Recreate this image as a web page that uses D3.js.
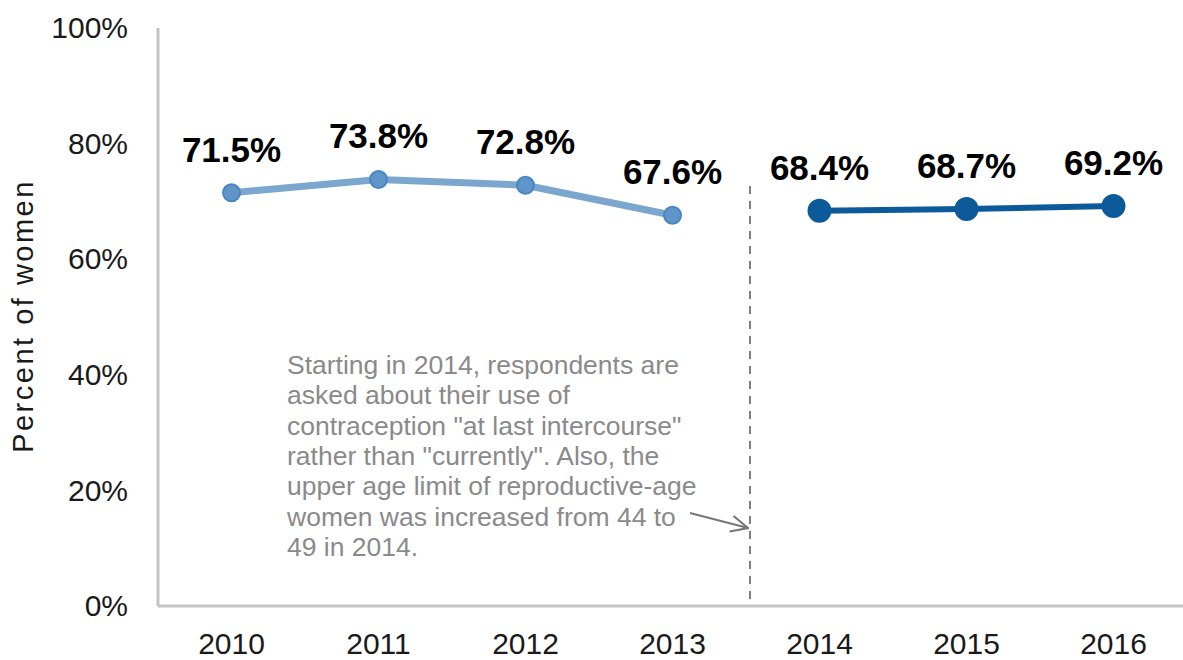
<!DOCTYPE html>
<html>
<head>
<meta charset="utf-8">
<script src="https://cdn.jsdelivr.net/npm/d3@7"></script>
<style>
  body { margin: 0; background: #fff; }
  text { font-family: "Liberation Sans", Arial, sans-serif; }
</style>
</head>
<body>
<div id="chart"></div>
<script>
// Data
const years = ["2010", "2011", "2012", "2013", "2014", "2015", "2016"];
const oldYears = ["2010", "2011", "2012", "2013"];
const oldValues = [71.5, 73.8, 72.8, 67.6];
const newYears = ["2014", "2015", "2016"];
const newValues = [68.4, 68.7, 69.2];
const yTicks = [0, 20, 40, 60, 80, 100];
const noteLines = [
  "Starting in 2014, respondents are",
  "asked about their use of",
  "contraception \"at last intercourse\"",
  "rather than \"currently\". Also, the",
  "upper age limit of reproductive-age",
  "women was increased from 44 to",
  "49 in 2014.",
];

const width = 1183;
const height = 660;
const margin = { left: 158, right: 0, top: 28, bottom: 54 };

const svg = d3
  .select("#chart")
  .append("svg")
  .attr("width", width)
  .attr("height", height);

const xScale = d3
  .scaleBand()
  .domain(years)
  .range([margin.left, margin.left + 7 * 147]);
const xc = (d) => xScale(d) + xScale.bandwidth() / 2;

const yScale = d3
  .scaleLinear()
  .domain([0, 100])
  .range([height - margin.bottom, margin.top]);

// axes
const yAxis = svg
  .append("g")
  .attr("transform", `translate(${margin.left}, 0)`)
  .call(d3.axisLeft(yScale).tickValues(yTicks).tickSize(0).tickPadding(30).tickFormat((d) => d + "%"));
yAxis.select(".domain").remove();
yAxis.selectAll("text").attr("font-size", 30).attr("fill", "#1a1a1a");

const xAxis = svg
  .append("g")
  .attr("transform", `translate(0, ${height - margin.bottom})`)
  .call(d3.axisBottom(xScale).tickSize(0).tickPadding(27));
xAxis.select(".domain").remove();
xAxis.selectAll("text").attr("font-size", 30).attr("fill", "#1a1a1a");

svg
  .append("line")
  .attr("x1", margin.left)
  .attr("x2", margin.left)
  .attr("y1", yScale(100))
  .attr("y2", yScale(0))
  .attr("stroke", "#c4c4c4")
  .attr("stroke-width", 3);
svg
  .append("line")
  .attr("x1", margin.left)
  .attr("x2", width)
  .attr("y1", yScale(0))
  .attr("y2", yScale(0))
  .attr("stroke", "#c4c4c4")
  .attr("stroke-width", 3);

svg
  .append("text")
  .attr("transform", `translate(33, 316) rotate(-90)`)
  .attr("text-anchor", "middle")
  .attr("font-size", 29)
  .attr("letter-spacing", 2.5)
  .attr("fill", "#1a1a1a")
  .text("Percent of women");

// divider
const divX = xScale("2014") + 4;
svg
  .append("line")
  .attr("x1", divX)
  .attr("x2", divX)
  .attr("y1", 186)
  .attr("y2", yScale(0) - 4)
  .attr("stroke", "#555")
  .attr("stroke-width", 1.5)
  .attr("stroke-dasharray", "8,7");

// note
const note = svg
  .append("text")
  .attr("x", 287)
  .attr("y", 374)
  .attr("font-size", 26.5)
  .attr("fill", "#8a8a8a");
noteLines.forEach((l, i) => {
  note.append("tspan").attr("x", 287).attr("dy", i === 0 ? 0 : 30.3).text(l);
});

svg
  .append("defs")
  .append("marker")
  .attr("id", "arrow")
  .attr("viewBox", "0 0 10 10")
  .attr("refX", 9.5)
  .attr("refY", 5)
  .attr("markerWidth", 20)
  .attr("markerHeight", 20)
  .attr("markerUnits", "userSpaceOnUse")
  .attr("orient", "auto")
  .append("path")
  .attr("d", "M1,1 L9.5,5 L1,9")
  .attr("fill", "none")
  .attr("stroke", "#777")
  .attr("stroke-width", 1.1);
svg
  .append("line")
  .attr("x1", 690)
  .attr("y1", 513)
  .attr("x2", divX - 2)
  .attr("y2", 528)
  .attr("stroke", "#777")
  .attr("stroke-width", 2.2)
  .attr("marker-end", "url(#arrow)");

// lines
const line = d3
  .line()
  .x((d) => xc(d.x))
  .y((d) => yScale(d.y));

const drawSeries = (xs, vs, opts) => {
  const pts = xs.map((x, i) => ({ x, y: vs[i] }));
  svg
    .append("path")
    .datum(pts)
    .attr("fill", "none")
    .attr("stroke", opts.color)
    .attr("stroke-width", opts.width)
    .attr("stroke-linejoin", "round")
    .attr("d", line);
  svg
    .append("g")
    .selectAll("circle")
    .data(pts)
    .join("circle")
    .attr("cx", (d) => xc(d.x))
    .attr("cy", (d) => yScale(d.y))
    .attr("r", opts.r)
    .attr("fill", opts.fill)
    .attr("stroke", opts.stroke)
    .attr("stroke-width", 2);
  svg
    .append("g")
    .selectAll("text")
    .data(pts)
    .join("text")
    .attr("x", (d) => xc(d.x))
    .attr("y", (d) => yScale(d.y) - 31)
    .attr("text-anchor", "middle")
    .attr("font-size", 35)
    .attr("font-weight", "bold")
    .attr("fill", "#000")
    .text((d) => d.y.toFixed(1) + "%");
};

drawSeries(oldYears, oldValues, {
  color: "#7ba7cf",
  width: 7,
  r: 8.5,
  fill: "#5f95c8",
  stroke: "#4a86c0",
});
drawSeries(newYears, newValues, {
  color: "#0d5a9a",
  width: 6,
  r: 11,
  fill: "#0d5a9a",
  stroke: "#0d5a9a",
});
</script>
</body>
</html>
